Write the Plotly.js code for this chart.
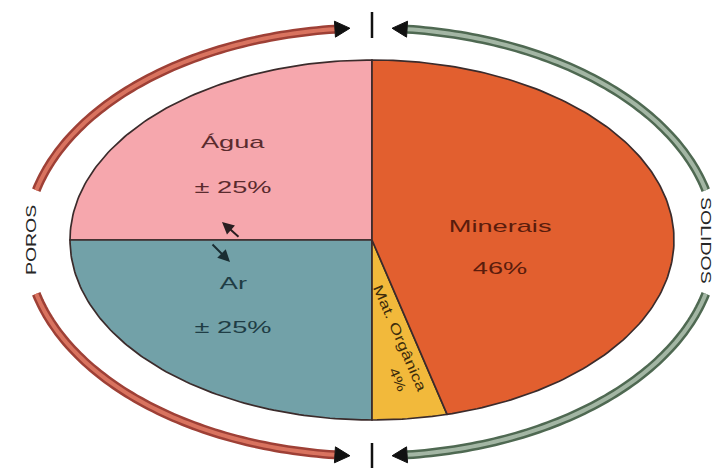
<!DOCTYPE html>
<html><head><meta charset="utf-8">
<script src="https://cdn.plot.ly/plotly-3.0.1.min.js"></script>
<style>html,body{margin:0;padding:0;background:#fff}#chart{width:718px;height:468px}</style>
</head><body><div id="chart"></div>
<script>
// ---- data ----
const labels = ['Água', 'Ar', 'Mat. Orgânica', 'Minerais'];
const values = [25, 25, 4, 46];
const valueTexts = ['± 25%', '± 25%', '4%', '46%'];
const colors = ['#f6a7ad', '#72a1a8', '#f2b93b', '#e25f2f'];
const groupLabels = ['POROS', 'SOLIDOS'];

// ---- geometry (layout) ----
const W = 718, H = 468;
const cx = 372, cy = 240, rx = 302, ry = 180;
const rad = d => d * Math.PI / 180;
// angle a measured counterclockwise from the top
function ell(a, ccx, ccy, rrx, rry) {
  return [ccx - rrx * Math.sin(rad(a)), ccy - rry * Math.cos(rad(a))];
}

const total = values.reduce((s, v) => s + v, 0);
const traces = [];
let cum = 0;
values.forEach((v, i) => {
  const a0 = cum / total * 360, a1 = (cum + v) / total * 360;
  cum += v;
  const xs = [cx], ys = [cy];
  const n = Math.max(2, Math.ceil(a1 - a0));
  for (let k = 0; k <= n; k++) {
    const p = ell(a0 + (a1 - a0) * k / n, cx, cy, rx, ry);
    xs.push(p[0]); ys.push(p[1]);
  }
  xs.push(cx); ys.push(cy);
  traces.push({
    type: 'scatter', mode: 'lines', x: xs, y: ys, fill: 'toself',
    fillcolor: colors[i], line: {color: '#3b2b2b', width: 1.7},
    hoverinfo: 'text', text: labels[i], showlegend: false
  });
});

// ---- outer arcs with arrowheads (decoration) ----
const ocx = 371, ocy = 242, orx = 345, ory = 214;
// phi measured clockwise from the top
function oe(phi) { return [ocx + orx * Math.sin(rad(phi)), ocy - ory * Math.cos(rad(phi))]; }
const shapes = [];
function arc(p0, p1, dark, light) {
  let d = '';
  const n = Math.abs(p1 - p0);
  for (let k = 0; k <= n; k++) {
    const p = oe(p0 + (p1 - p0) * k / n);
    d += (k ? ' L' : 'M') + p[0].toFixed(2) + ',' + p[1].toFixed(2);
  }
  shapes.push({type: 'path', path: d, line: {color: dark, width: 9}, layer: 'above'});
  shapes.push({type: 'path', path: d, line: {color: light, width: 4}, layer: 'above'});
  // arrowhead
  const e = oe(p1), e2 = oe(p1 + (p1 > p0 ? 0.5 : -0.5));
  let tx = e2[0] - e[0], ty = e2[1] - e[1];
  const L = Math.hypot(tx, ty); tx /= L; ty /= L;
  const nx = -ty, ny = tx, len = 15, hw = 8;
  const tip = [e[0] + tx * len, e[1] + ty * len];
  const b1 = [e[0] + nx * hw, e[1] + ny * hw], b2 = [e[0] - nx * hw, e[1] - ny * hw];
  shapes.push({type: 'path', path: `M${tip[0]},${tip[1]} L${b1[0]},${b1[1]} L${b2[0]},${b2[1]} Z`,
    fillcolor: '#111', line: {color: '#111', width: 1}, layer: 'above'});
}
const red = ['#9e4036', '#d9735f'], green = ['#4f6952', '#a3b6a4'];
arc(-76, -6, red[0], red[1]);
arc(-104, -174, red[0], red[1]);
arc(76, 6, green[0], green[1]);
arc(104, 174, green[0], green[1]);
shapes.push({type: 'line', x0: 372, x1: 372, y0: 12, y1: 38, line: {color: '#111', width: 2.5}});
shapes.push({type: 'line', x0: 372, x1: 372, y0: 443, y1: 468, line: {color: '#111', width: 2.5}});

// ---- text ----
const F = 'Liberation Sans, Arial, sans-serif';
const ann = [];
const stretch = [];
function t(x, y, text, color, size, angle, s) {
  ann.push({x, y, xref: 'x', yref: 'y', text, showarrow: false,
    font: {family: F, size: size || 17, color}, textangle: angle || 0});
  stretch.push(s || 1.6);
}
t(233, 142, labels[0], '#5a2b2e');
t(233, 187, valueTexts[0], '#5a2b2e');
t(233, 283, labels[1], '#1f3d45');
t(233, 327, valueTexts[1], '#1f3d45');
t(500, 226, labels[3], '#5a1c0c');
t(500, 268, valueTexts[3], '#5a1c0c');
t(400, 338, labels[2], '#3d2c0c', 14, 66.7, 1.3);
t(398, 379, valueTexts[2], '#3d2c0c', 13, 66.7, 1.3);
t(30, 240, groupLabels[0], '#262626', 15, -90, 1.3);
t(707, 240, groupLabels[1], '#262626', 15, 90, 1.3);
// small exchange arrows
ann.push({x: 222, y: 222, ax: 240, ay: 238, xref: 'x', yref: 'y', axref: 'x', ayref: 'y',
  text: '', showarrow: true, arrowhead: 2, arrowsize: 1.2, arrowwidth: 2, arrowcolor: '#2a1f22'});
stretch.push(1);
ann.push({x: 230, y: 262, ax: 211, ay: 243, xref: 'x', yref: 'y', axref: 'x', ayref: 'y',
  text: '', showarrow: true, arrowhead: 2, arrowsize: 1.2, arrowwidth: 2, arrowcolor: '#1a2e33'});
stretch.push(1);

const layout = {
  width: W, height: H, margin: {l: 0, r: 0, t: 0, b: 0},
  paper_bgcolor: '#fff', plot_bgcolor: '#fff',
  xaxis: {range: [0, W], visible: false, fixedrange: true},
  yaxis: {range: [H, 0], visible: false, fixedrange: true},
  shapes, annotations: ann, showlegend: false
};
// widen the lettering along its own direction, like the stretched original
function widenText() {
  document.querySelectorAll('#chart .annotation').forEach(g => {
    const i = +g.getAttribute('data-index');
    const s = stretch[i];
    const txt = g.querySelector('text.annotation-text');
    if (!txt || !s || s === 1) return;
    const bb = txt.getBBox();
    const c = bb.x + bb.width / 2;
    txt.setAttribute('transform', `translate(${c},0) scale(${s},1) translate(${-c},0)`);
  });
}
Plotly.newPlot('chart', traces, layout, {displayModeBar: false, staticPlot: true}).then(widenText);
</script></body></html>
